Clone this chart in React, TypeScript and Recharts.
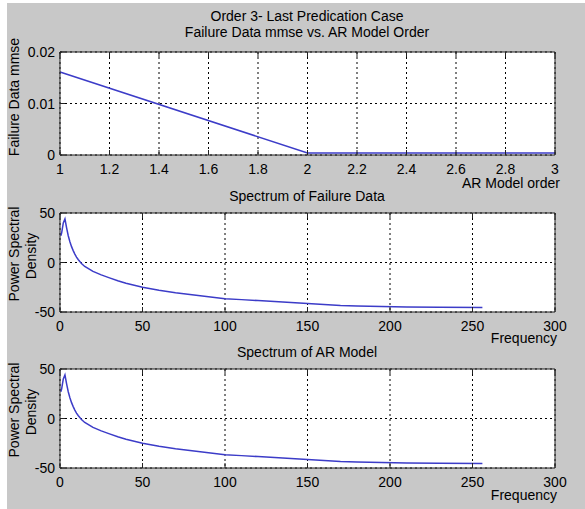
import React from "react"
import { LineChart, Line, XAxis, YAxis, CartesianGrid } from "recharts"

// values
const arOrders = [1, 2, 3]
const mmseValues = [0.0161, 0.0004, 0.0004]

const frequencies = [0.5, 1, 2, 3, 4, 5, 6, 7, 8, 9, 10, 11, 13, 15, 20, 25, 30, 35, 40, 45, 50, 60, 70, 80, 90, 100, 110, 120, 130, 140, 150, 160, 170, 180, 195, 210, 230, 256]
const failurePsd = [27, 30, 40, 44, 35, 27, 21, 16, 12, 8.5, 5.5, 3, -1, -4, -9, -12.5, -15.5, -18.5, -21, -23, -25, -28, -30.5, -32.5, -34.5, -36.5, -37.5, -38.5, -39.5, -40.5, -41.5, -42.5, -43.5, -44, -44.5, -45, -45.3, -45.5]
const arModelPsd = [27, 30, 40, 44, 35, 27, 21, 16, 12, 8.5, 5.5, 3, -1, -4, -9, -12.5, -15.5, -18.5, -21, -23, -25, -28, -30.5, -32.5, -34.5, -36.5, -37.5, -38.5, -39.5, -40.5, -41.5, -42.5, -43.5, -44, -44.5, -45, -45.3, -45.5]

const orderTicks = [1, 1.2, 1.4, 1.6, 1.8, 2, 2.2, 2.4, 2.6, 2.8, 3]
const mmseTicks = [0, 0.01, 0.02]
const freqTicks = [0, 50, 100, 150, 200, 250, 300]
const psdTicks = [-50, 0, 50]

const FONT = "'Liberation Sans', Arial, sans-serif"
const LINE = "#3c3cc8"
const AXIS = "#222"

const mmseData = arOrders.map((x, i) => ({ x, y: mmseValues[i] }))
const failureData = frequencies.map((x, i) => ({ x, y: failurePsd[i] }))
const arData = frequencies.map((x, i) => ({ x, y: arModelPsd[i] }))

const BottomTick = (props: any) => {
  const { x, y, payload } = props
  return (
    <g>
      <line x1={x} x2={x} y1={y} y2={y - 5} stroke={AXIS} />
      <text x={x} y={y + 19} textAnchor="middle" fontSize={14} fontFamily={FONT} fill="#000">
        {payload.value}
      </text>
    </g>
  )
}
const LeftTick = (props: any) => {
  const { x, y, payload } = props
  return (
    <g>
      <line x1={x} x2={x + 5} y1={y} y2={y} stroke={AXIS} />
      <text x={x - 5} y={y + 5} textAnchor="end" fontSize={14} fontFamily={FONT} fill="#000">
        {payload.value}
      </text>
    </g>
  )
}
const TopTick = (props: any) => <line x1={props.x} x2={props.x} y1={props.y} y2={props.y + 5} stroke={AXIS} />
const RightTick = (props: any) => <line x1={props.x} x2={props.x - 5} y1={props.y} y2={props.y} stroke={AXIS} />

function Panel({ top, height, plotTop, plotBottom, data, xDomain, xTicks, yDomain, yTicks }: any) {
  return (
    <div style={{ position: "absolute", left: 0, top }}>
      <LineChart
        width={585}
        height={height}
        data={data}
        margin={{ top: plotTop - top - 1, left: 59, right: 29, bottom: height - (plotBottom - top) - 1 }}
      >
        <CartesianGrid stroke="#000" strokeDasharray="2 3" fill="#fff" fillOpacity={1} />
        <XAxis dataKey="x" type="number" domain={xDomain} ticks={xTicks} interval={0} height={1}
          axisLine={{ stroke: AXIS }} tickLine={false} tickSize={0} tickMargin={0} tick={BottomTick} />
        <XAxis xAxisId="top" orientation="top" dataKey="x" type="number" domain={xDomain} ticks={xTicks} interval={0} height={1}
          axisLine={{ stroke: AXIS }} tickLine={false} tickSize={0} tickMargin={0} tick={TopTick} />
        <YAxis type="number" domain={yDomain} ticks={yTicks} interval={0} width={1}
          axisLine={{ stroke: AXIS }} tickLine={false} tickSize={0} tickMargin={0} tick={LeftTick} />
        <YAxis yAxisId="right" orientation="right" type="number" domain={yDomain} ticks={yTicks} interval={0} width={1}
          axisLine={{ stroke: AXIS }} tickLine={false} tickSize={0} tickMargin={0} tick={RightTick} />
        <Line type="linear" dataKey="y" stroke={LINE} strokeWidth={1.5} dot={false} isAnimationActive={false} />
      </LineChart>
    </div>
  )
}

const txt = (left: number, top: number, s: string, extra: any = {}) => (
  <div
    style={{
      position: "absolute", left, top, transform: "translate(-50%, -50%)", whiteSpace: "nowrap",
      fontSize: 14, fontFamily: FONT, lineHeight: "16px", color: "#000", ...extra,
    }}
  >
    {s}
  </div>
)
const rtxt = (right: number, top: number, s: string) => (
  <div style={{ position: "absolute", right: 585 - right, top: top - 8, whiteSpace: "nowrap", fontSize: 14, fontFamily: FONT, lineHeight: "16px" }}>
    {s}
  </div>
)
const vtxt = (left: number, top: number, s: string) => txt(left, top, s, { transform: "translate(-50%, -50%) rotate(-90deg)" })

export default function App() {
  return (
    <div style={{ position: "absolute", left: 0, top: 0, width: 585, height: 509, background: "#fff", overflow: "hidden" }}>
      <div style={{ position: "absolute", left: 7, top: 3, width: 578, height: 506, background: "#c8c8c8" }} />
      <Panel top={0} height={190} plotTop={52} plotBottom={155} data={mmseData} xDomain={[1, 3]} xTicks={orderTicks} yDomain={[0, 0.02]} yTicks={mmseTicks} />
      <Panel top={190} height={155} plotTop={213} plotBottom={312} data={failureData} xDomain={[0, 300]} xTicks={freqTicks} yDomain={[-50, 50]} yTicks={psdTicks} />
      <Panel top={345} height={164} plotTop={369} plotBottom={468} data={arData} xDomain={[0, 300]} xTicks={freqTicks} yDomain={[-50, 50]} yTicks={psdTicks} />

      {txt(307, 16, "Order 3- Last Predication Case")}
      {txt(307, 32, "Failure Data mmse vs. AR Model Order")}
      {vtxt(14, 97, "Failure Data mmse")}
      {rtxt(560, 183, "AR Model order")}

      {txt(307, 196, "Spectrum of Failure Data")}
      {vtxt(14, 254, "Power Spectral")}
      {vtxt(31, 256, "Density")}
      {rtxt(557, 338, "Frequency")}

      {txt(307, 352, "Spectrum of AR Model")}
      {vtxt(14, 410, "Power Spectral")}
      {vtxt(31, 412, "Density")}
      {rtxt(557, 495, "Frequency")}
    </div>
  )
}
